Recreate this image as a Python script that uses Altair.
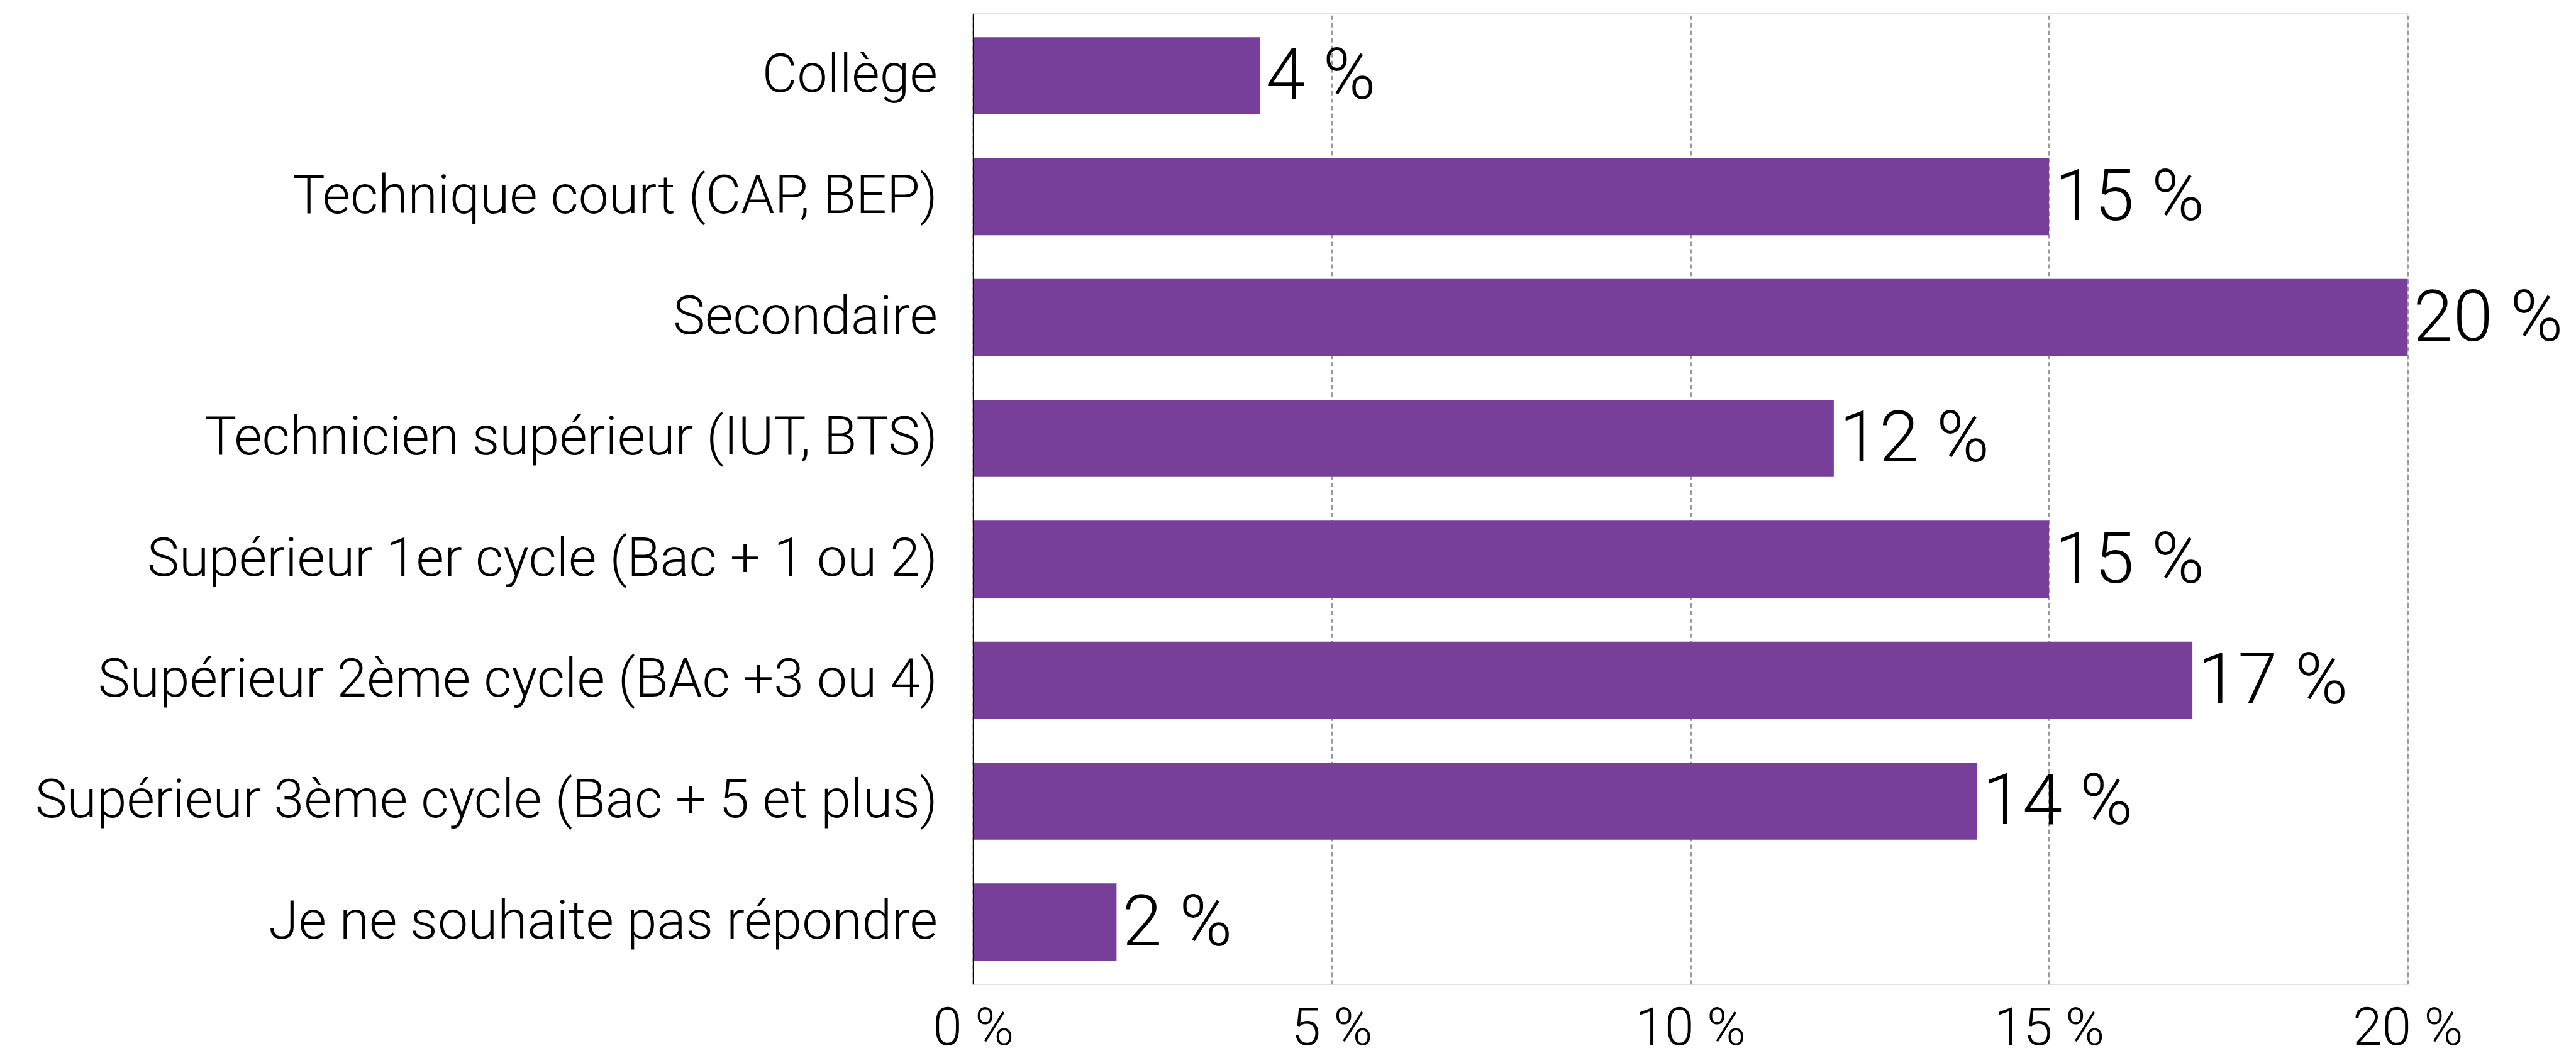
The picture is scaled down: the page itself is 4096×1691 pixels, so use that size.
import altair as alt
import pandas as pd

categories = [
    "Collège",
    "Technique court (CAP, BEP)",
    "Secondaire",
    "Technicien supérieur (IUT, BTS)",
    "Supérieur 1er cycle (Bac + 1 ou 2)",
    "Supérieur 2ème cycle (BAc +3 ou 4)",
    "Supérieur 3ème cycle (Bac + 5 et plus)",
    "Je ne souhaite pas répondre",
]
values = [4, 15, 20, 12, 15, 17, 14, 2]
x_ticks = [0, 5, 10, 15, 20]

df = pd.DataFrame({"cat": categories, "val": values})
df["label"] = df["val"].astype(str) + " %"

FONT = "Roboto"
BAR = "#773F99"

y_enc = alt.Y(
    "cat:N",
    sort=categories,
    title=None,
    scale=alt.Scale(paddingInner=0.362, paddingOuter=0.197),
    axis=alt.Axis(
        ticks=False,
        tickSize=0,
        grid=False,
        domain=True,
        domainColor="#000000",
        domainWidth=2,
        labelFont=FONT,
        labelFontWeight=300,
        labelFontSize=86,
        labelColor="#000000",
        labelPadding=57,
        labelLimit=0,
        zindex=1,
    ),
)

x_enc = alt.X(
    "val:Q",
    title=None,
    scale=alt.Scale(domain=[0, 20], nice=False, zero=True),
    axis=alt.Axis(
        values=x_ticks,
        domain=False,
        ticks=False,
        tickSize=0,
        grid=True,
        gridColor="#9a9a9a",
        gridDash=[7, 5],
        gridWidth=2.5,
        labelExpr="datum.value + ' %'",
        labelFont=FONT,
        labelFontWeight=300,
        labelFontSize=84,
        labelColor="#000000",
        labelBaseline="alphabetic",
        labelPadding=96,
        labelFlush=False,
        labelOverlap=False,
    ),
)

bars = alt.Chart(df).mark_bar(color=BAR).encode(x=x_enc, y=y_enc)

text = alt.Chart(df).mark_text(
    align="left",
    baseline="middle",
    dx=9,
    dy=3,
    font=FONT,
    fontWeight=300,
    fontSize=114,
    color="#000000",
).encode(x=alt.X("val:Q"), y=alt.Y("cat:N", sort=categories), text="label:N")

chart = (
    alt.layer(bars, text)
    .properties(
        width=2283,
        height=1546,
        padding={"left": 1540.7, "top": 12.5, "right": 260, "bottom": 123},
        autosize=alt.AutoSizeParams(type="none"),
    )
    .configure_view(stroke=None)
    .configure(background="#ffffff")
)

chart.save("out.html", embed_options={"renderer": "svg", "actions": False})
